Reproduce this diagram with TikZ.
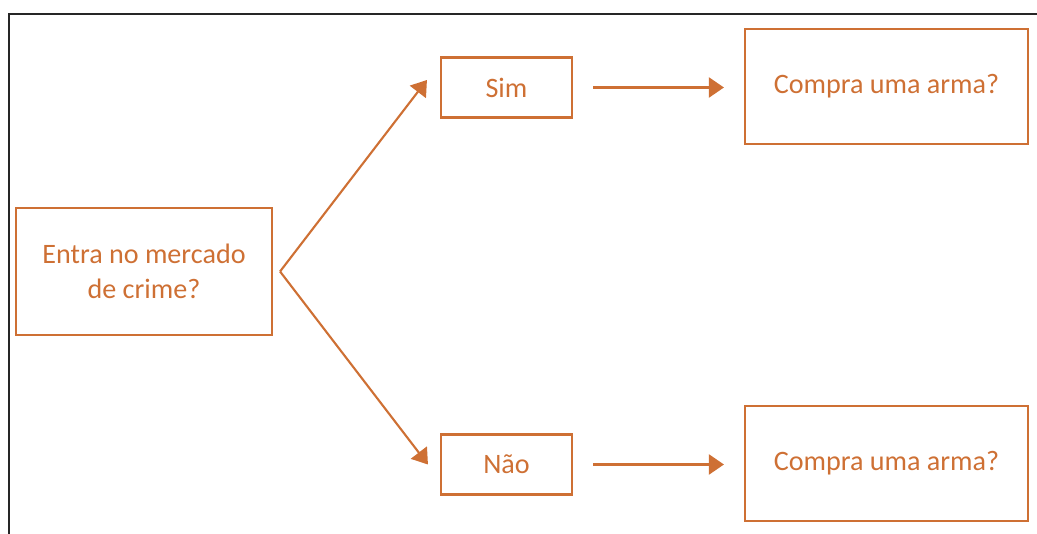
\documentclass[tikz,border=0pt]{standalone}
\usepackage{fontspec}
\setmainfont{Carlito}
\usetikzlibrary{arrows.meta}
\definecolor{tree orange}{RGB}{206,112,52}

\begin{document}
\begin{tikzpicture}[
  box/.style={draw=tree orange, line width=1.2pt, text=tree orange, align=center, font=\fontsize{16}{20}\selectfont},
  arrow/.style={draw=tree orange, line width=1.2pt, -{Triangle[length=3mm, width=4mm]}}
]

\useasboundingbox (0, 0) rectangle (20.74, 10.68);
\draw[line width=1.3pt, color=black!85] (0.18, -0.5) -- (0.18, 10.4) -- (21.2, 10.4);

\node[box, minimum width=5.12cm, minimum height=2.54cm] (entry) at (2.88, 5.25) {Entra no mercado\\de crime?};

\node[box, minimum width=2.62cm, minimum height=1.2cm] (sim box) at (10.13, 8.93) {Sim};
\node[box, minimum width=2.62cm, minimum height=1.2cm] (nao box) at (10.13, 1.39) {Não};

\node[box, minimum width=5.66cm, minimum height=2.3cm] (compra a) at (17.73, 8.95) {Compra uma arma?};
\node[box, minimum width=5.66cm, minimum height=2.3cm] (compra b) at (17.73, 1.41) {Compra uma arma?};

\coordinate (fork) at ([xshift=0.14cm] entry.east);
\draw[arrow] (fork) -- ([xshift=-0.26cm, yshift=0.15cm] sim box.west);
\draw[arrow] (fork) -- ([xshift=-0.24cm] nao box.west);

\draw[arrow] ([xshift=0.4cm] sim box.east) -- ([xshift=-0.4cm] compra a.west |- sim box.east);
\draw[arrow] ([xshift=0.4cm] nao box.east) -- ([xshift=-0.4cm] compra b.west |- nao box.east);

\end{tikzpicture}
\end{document}
